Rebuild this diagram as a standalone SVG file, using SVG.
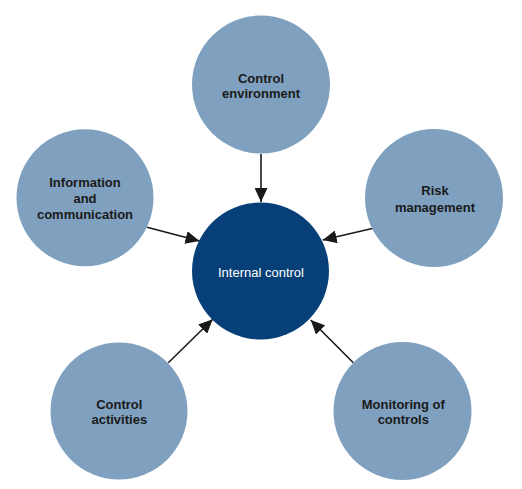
<svg xmlns="http://www.w3.org/2000/svg" width="522" height="489" viewBox="0 0 522 489">
<style>
.n{fill:#7fa1bf}
.c{fill:#073f78}
.t{font-family:"Liberation Sans",Arial,sans-serif;font-size:13px;font-weight:bold;fill:#1a1a1a;text-anchor:middle}
.w{font-family:"Liberation Sans",Arial,sans-serif;font-size:13px;fill:#ffffff;text-anchor:middle}
.e{stroke:#1a1a1a;stroke-width:1.6;fill:none;marker-end:url(#ah)}
</style>
<defs>
<marker id="ah" markerUnits="userSpaceOnUse" markerWidth="14" markerHeight="13" refX="14" refY="6.5" orient="auto">
<path d="M0,0 L14,6.5 L0,13 Z" fill="#1a1a1a"/>
</marker>
</defs>
<rect width="522" height="489" fill="#ffffff"/>
<g id="connectors">
<line class="e" x1="261" y1="154" x2="261" y2="202"/>
<line class="e" x1="147" y1="227.3" x2="199.5" y2="241"/>
<line class="e" x1="373.3" y1="228.3" x2="322.7" y2="240"/>
<line class="e" x1="168.3" y1="362.7" x2="212.7" y2="319.3"/>
<line class="e" x1="353.3" y1="362.7" x2="310.7" y2="320"/>
</g>
<g id="internal-control">
<circle class="c" cx="260.5" cy="271" r="68.5"/>
<text class="w" x="261" y="276.5">Internal control</text>
</g>
<g id="control-environment">
<circle class="n" cx="261" cy="84.5" r="69"/>
<text class="t" x="261" y="83">Control</text>
<text class="t" x="261" y="98">environment</text>
</g>
<g id="information-communication">
<circle class="n" cx="85" cy="197.7" r="68.5"/>
<text class="t" x="85" y="186.7">Information</text>
<text class="t" x="85" y="202.7">and</text>
<text class="t" x="85" y="219">communication</text>
</g>
<g id="risk-management">
<circle class="n" cx="434" cy="198" r="69"/>
<text class="t" x="435" y="195">Risk</text>
<text class="t" x="435" y="211.5">management</text>
</g>
<g id="control-activities">
<circle class="n" cx="119" cy="411" r="68.5"/>
<text class="t" x="119.3" y="409.3">Control</text>
<text class="t" x="119.3" y="424.3">activities</text>
</g>
<g id="monitoring-controls">
<circle class="n" cx="402.5" cy="411" r="69"/>
<text class="t" x="403.3" y="409.3">Monitoring of</text>
<text class="t" x="403.3" y="424.3">controls</text>
</g>
</svg>
